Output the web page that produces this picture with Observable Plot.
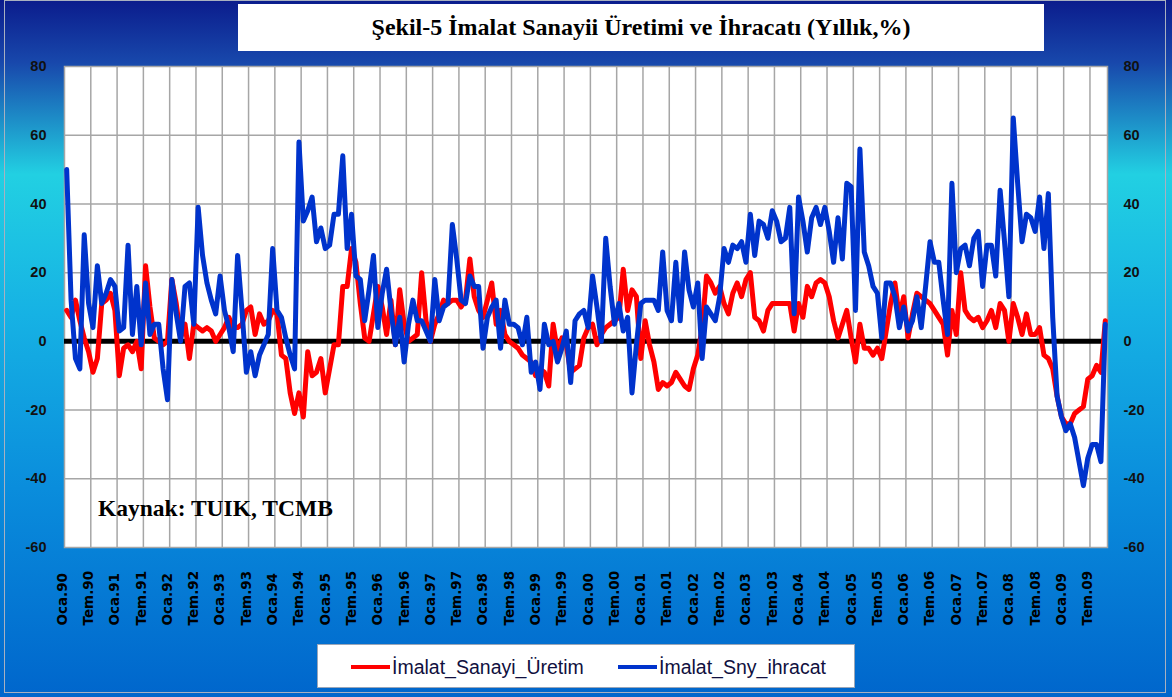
<!DOCTYPE html>
<html><head><meta charset="utf-8">
<script src="https://cdn.jsdelivr.net/npm/d3@7"></script>
<script src="https://cdn.jsdelivr.net/npm/@observablehq/plot@0.6"></script>
<style>
html,body{margin:0;padding:0;background:#fff;}
#wrap{position:relative;width:1172px;height:697px;overflow:hidden;
background:linear-gradient(to bottom,#0b1c8c 0%,#1848ac 9%,#22d0e2 25%,#16b2e4 45%,#0a8ddc 70%,#0066cc 100%);}
#chart svg{position:absolute;left:0;top:0;}
#title{position:absolute;left:238px;top:4px;width:806px;height:47px;background:#fff;display:flex;align-items:center;justify-content:center;font-family:"Liberation Serif","Times New Roman",serif;font-weight:bold;font-size:24px;color:#000;}
#kaynak{position:absolute;left:98px;top:495px;font-family:"Liberation Serif","Times New Roman",serif;font-weight:bold;font-size:23.5px;color:#000;}
#legend{position:absolute;left:317px;top:644px;width:538px;height:44px;background:#fff;border:1px solid #9aa6b8;box-sizing:border-box;font-family:"Liberation Sans",Arial,sans-serif;font-size:19.5px;color:#101040;}
.item{position:absolute;top:0;height:44px;display:flex;align-items:center;}
.sw{width:39px;height:4px;margin-right:2px;}
#border{position:absolute;left:4px;top:0;width:1162px;height:693px;border:1px solid #a8b0c0;box-sizing:border-box;pointer-events:none;}
</style></head>
<body>
<div id="wrap">
  <div id="chart"></div>
  <div id="title">Şekil-5 İmalat Sanayii Üretimi ve İhracatı (Yıllık,%)</div>
  <div id="kaynak">Kaynak: TUIK, TCMB</div>
  <div id="legend">
    <div class="item" style="left:33px"><div class="sw" style="background:#ff0000"></div><span id="l1"></span></div>
    <div class="item" style="left:300px"><div class="sw" style="background:#0033cc"></div><span id="l2"></span></div>
  </div>
  <div id="border"></div>
</div>
<script>
const seriesNames = ["İmalat_Sanayi_Üretim", "İmalat_Sny_ihracat"];

// İmalat sanayi üretimi (yıllık %), Oca.90 - Eki.09, monthly
const production = [
  9, 7, 12, 6, 1, -3, -9, -5, 11, 12, 14, 9,
  -10, -2, -1, -3, 0, -8, 22, 10, 1, 0, -1, 0,
  18, 11, 1, 5, -5, 5, 4, 3, 4, 3, 0, 2,
  4, 7, 4, 4, 5, 9, 10, 2, 8, 5, 6, 9,
  8, -4, -5, -15, -21, -15, -22, -3, -10, -9, -5, -15,
  -8, -1, -1, 16, 16, 27, 23, 11, 1, 0, 8, 16,
  10, 2, 12, -1, 15, 5, 0, 1, 2, 20, 6, 0,
  5, 8, 12, 11, 12, 12, 10, 12, 24, 13, 9, 7,
  12, 17, 5, 9, 2, 0, -1, -2, -4, -5, -6, -10,
  -8, -9, -13, 5, -3, 1, -1, -9, -8, -7, 1, 4,
  5, -1, 2, 4, 5, 6, 7, 21, 9, 15, 13, -5,
  6, -1, -6, -14, -12, -13, -12, -9, -11, -13, -14, -8,
  -4, 4, 19, 17, 14, 16, 11, 8, 14, 17, 13, 18,
  20, 7, 6, 3, 9, 11, 11, 11, 11, 11, 3, 11,
  7, 16, 13, 17, 18, 17, 13, 6, 1, 5, 9, 1,
  -6, 5, -2, -2, -4, -2, -5, 3, 11, 17, 7, 13,
  1, 8, 14, 13, 12, 11, 9, 7, 5, -4, 9, 2,
  20, 9, 7, 6, 7, 4, 6, 9, 4, 11, 9, 0,
  11, 7, 2, 8, 2, 2, 4, -4, -5, -8, -16, -22,
  -24, -24, -21, -20, -19, -11, -10, -7, -9, 6
];

// İmalat sanayi ihracatı (yıllık %), Oca.90 - Eki.09, monthly
const exportsSeries = [
  50, 12, -5, -8, 31, 11, 4, 22, 11, 14, 18, 16,
  3, 4, 28, 2, 16, -1, 17, 2, 5, 5, -8, -17,
  18, 8, 0, 16, 17, 5, 39, 25, 17, 12, 8, 19,
  9, 4, -3, 25, 9, -9, -3, -10, -4, -1, 2, 27,
  9, 7, 1, -4, -8, 58, 35, 38, 42, 29, 33, 27,
  28, 37, 37, 54, 27, 37, 19, 18, 6, 15, 25, 4,
  14, 21, 9, -1, 7, -6, 5, 12, 6, 6, 3, 0,
  18, 6, 10, 11, 34, 24, 12, 11, 19, 16, 16, -2,
  7, 10, 12, -2, 12, 5, 5, 4, -1, 7, -9, -6,
  -14, 5, -1, 0, -6, -2, 3, -12, 6, 8, 9, 4,
  19, 10, 0, 30, 16, 5, 11, 3, 7, -15, -1, 11,
  12, 12, 12, 9, 26, 9, 6, 23, 6, 26, 15, 10,
  17, -5, 10, 8, 6, 13, 27, 23, 28, 27, 29, 23,
  37, 25, 35, 34, 30, 38, 35, 29, 30, 39, 8, 42,
  35, 26, 36, 39, 34, 39, 32, 23, 36, 24, 46, 45,
  9, 56, 26, 22, 16, 14, 1, 17, 17, 13, 4, 10,
  3, 6, 13, 4, 16, 29, 23, 23, 12, 2, 46, 20,
  27, 28, 22, 30, 32, 16, 28, 28, 19, 44, 29, 13,
  65, 46, 29, 37, 36, 32, 42, 27, 43, 7, -16, -22,
  -26, -24, -28, -35, -42, -34, -30, -30, -35, 5
];

const tickLabels = [
  "Oca.90","Tem.90","Oca.91","Tem.91","Oca.92","Tem.92","Oca.93","Tem.93",
  "Oca.94","Tem.94","Oca.95","Tem.95","Oca.96","Tem.96","Oca.97","Tem.97",
  "Oca.98","Tem.98","Oca.99","Tem.99","Oca.00","Tem.00","Oca.01","Tem.01",
  "Oca.02","Tem.02","Oca.03","Tem.03","Oca.04","Tem.04","Oca.05","Tem.05",
  "Oca.06","Tem.06","Oca.07","Tem.07","Oca.08","Tem.08","Oca.09","Tem.09"
];
const yTicks = [-60, -40, -20, 0, 20, 40, 60, 80];
const monthsPerTick = 6;

document.getElementById("l1").textContent = seriesNames[0];
document.getElementById("l2").textContent = seriesNames[1];

const n = production.length;
const data = production.map((p, i) => ({t: i + 0.5, prod: p, exp: exportsSeries[i]}));
const gridX = tickLabels.map((_, k) => k * monthsPerTick).filter(v => v > 0);
const labelPos = tickLabels.map((s, k) => ({t: k * monthsPerTick + 0.5, s}));

const chart = Plot.plot({
  width: 1172, height: 697,
  marginLeft: 64, marginRight: 65, marginTop: 66, marginBottom: 150,
  x: {domain: [0, n], axis: null},
  y: {domain: [-60, 80], axis: null},
  style: {background: "transparent", fontFamily: "Liberation Sans, Arial, sans-serif", color: "#111"},
  marks: [
    Plot.frame({fill: "#fff"}),
    Plot.ruleY(yTicks.filter(v => v > -60 && v < 80), {stroke: "#a6a6a6", strokeWidth: 1.5}),
    Plot.ruleX(gridX, {stroke: "#a6a6a6", strokeWidth: 1.5}),
    Plot.frame({stroke: "#a6a6a6", strokeWidth: 1.5}),
    Plot.ruleY([0], {stroke: "#000", strokeWidth: 5}),
    Plot.line(data, {x: "t", y: "prod", stroke: "#ff0000", strokeWidth: 5, strokeLinejoin: "round", strokeLinecap: "round"}),
    Plot.line(data, {x: "t", y: "exp", stroke: "#0033cc", strokeWidth: 5, strokeLinejoin: "round", strokeLinecap: "round"}),
    Plot.axisY({anchor: "left", ticks: yTicks, tickSize: 0, tickPadding: 18, fontSize: 14.5, fontWeight: "bold", tickFormat: d => String(d)}),
    Plot.axisY({anchor: "right", ticks: yTicks, tickSize: 0, tickPadding: 16, fontSize: 14.5, fontWeight: "bold", tickFormat: d => String(d)}),
    Plot.text(labelPos, {x: "t", text: "s", frameAnchor: "bottom", dy: 78, rotate: -90, textAnchor: "start",
      fontWeight: "bold", fontSize: 13.5, fontFamily: "DejaVu Sans", fill: "#000"})
  ]
});
document.getElementById("chart").appendChild(chart);
</script>
</body></html>
